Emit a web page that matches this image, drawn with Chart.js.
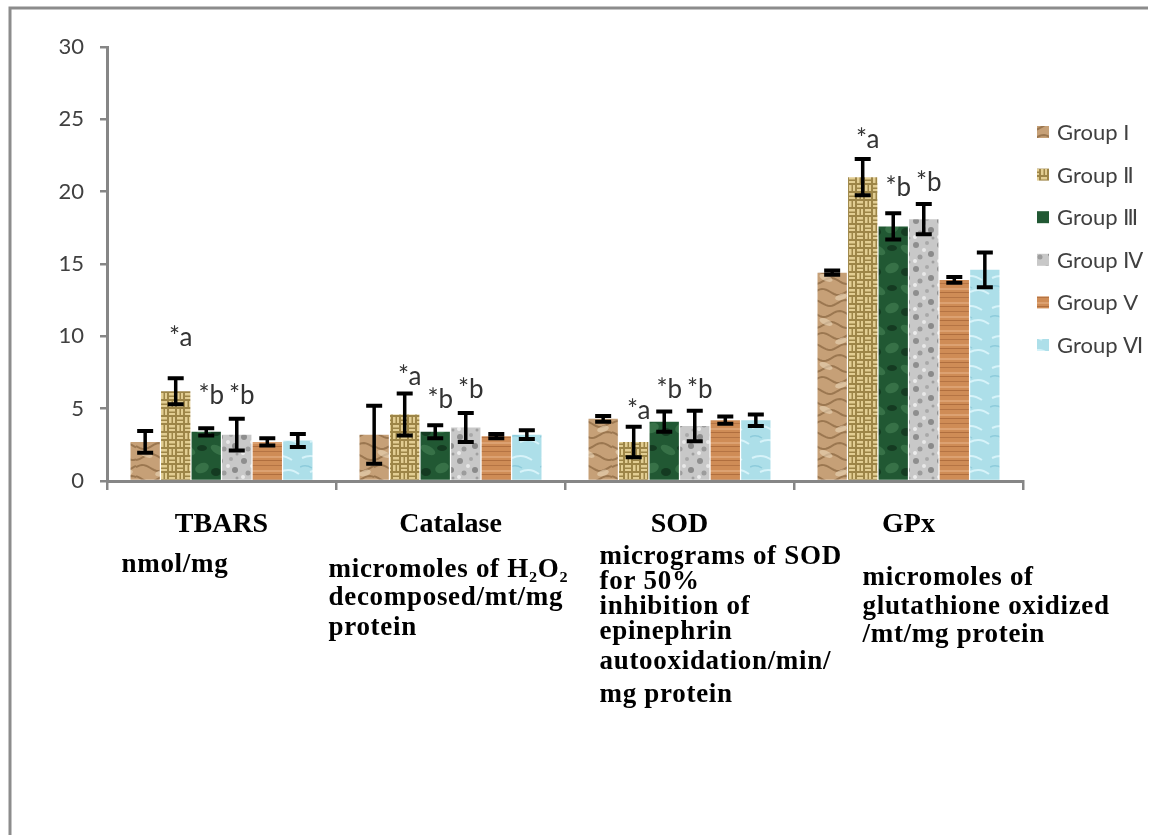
<!DOCTYPE html>
<html>
<head>
<meta charset="utf-8">
<script src="https://cdn.jsdelivr.net/npm/chart.js@4.4.0/dist/chart.umd.min.js"></script>
<style>
  html, body { margin: 0; padding: 0; background: #fff; }
  #wrap { width: 1155px; height: 835px; }
</style>
</head>
<body>
<div id="wrap"><canvas id="chart" width="1155" height="835"></canvas></div>
<script>
// Chart values
const categories = ['TBARS', 'Catalase', 'SOD', 'GPx'];
const groupNames = ['Group I', 'Group Ⅱ', 'Group Ⅲ', 'Group Ⅳ', 'Group V', 'Group Ⅵ'];

const group1 = [2.7, 3.2, 4.3, 14.4];
const group2 = [6.2, 4.6, 2.7, 21.0];
const group3 = [3.4, 3.4, 4.1, 17.6];
const group4 = [3.2, 3.7, 3.8, 18.1];
const group5 = [2.7, 3.1, 4.2, 13.9];
const group6 = [2.8, 3.2, 4.2, 14.6];

const err1 = [0.75, 2.0, 0.2, 0.15];
const err2 = [0.9, 1.45, 1.05, 1.25];
const err3 = [0.25, 0.45, 0.7, 0.9];
const err4 = [1.1, 1.0, 1.05, 1.05];
const err5 = [0.25, 0.15, 0.25, 0.2];
const err6 = [0.45, 0.3, 0.4, 1.2];

const yMin = 0, yMax = 30, yStep = 5;

// significance marks: group index, category index, height (axis units), text
const sigMarks = [
  [1, 0, 9.9, '*a'], [2, 0, 5.9, '*b'], [3, 0, 5.9, '*b'],
  [1, 1, 7.2, '*a'], [2, 1, 5.65, '*b'], [3, 1, 6.35, '*b'],
  [1, 2, 4.9, '*a'], [2, 2, 6.35, '*b'], [3, 2, 6.35, '*b'],
  [1, 3, 23.6, '*a'], [2, 3, 20.3, '*b'], [3, 3, 20.6, '*b']
];

// unit text under each category
const unitLines = [
  ['nmol/mg'],
  ['micromoles of H₂O₂', 'decomposed/mt/mg', 'protein'],
  ['micrograms of SOD', 'for 50%', 'inhibition of', 'epinephrin', 'autooxidation/min/', 'mg protein'],
  ['micromoles of', 'glutathione oxidized', '/mt/mg protein']
];
const unitLeft = [-100, -122, -80, -46];
const unitY = [
  [565],
  [570, 598, 628],
  [557, 582, 607, 632, 662, 695],
  [578, 607, 635]
];

const values = [group1, group2, group3, group4, group5, group6];
const errors = [err1, err2, err3, err4, err5, err6];

// Texture fills, drawn once on small tiles
function tile(w, h, draw) {
  const c = document.createElement('canvas');
  c.width = w; c.height = h;
  const g = c.getContext('2d');
  draw(g, w, h);
  return document.getElementById('chart').getContext('2d').createPattern(c, 'repeat');
}

const patterns = [
  tile(34, 44, (g, w, h) => {           // sandy rock
    g.fillStyle = '#c6a077'; g.fillRect(0, 0, w, h);
    g.strokeStyle = 'rgba(120,85,50,0.55)'; g.lineWidth = 2;
    for (let k = 0; k < 4; k++) {
      g.beginPath();
      for (let x = 0; x <= w; x += 2) {
        const y = 6 + k * 11 + Math.sin(x / 5 + k * 1.7) * 3;
        x === 0 ? g.moveTo(x, y) : g.lineTo(x, y);
      }
      g.stroke();
    }
    g.fillStyle = 'rgba(235,215,185,0.6)';
    g.beginPath(); g.ellipse(10, 14, 7, 3, 0.4, 0, Math.PI * 2); g.fill();
    g.beginPath(); g.ellipse(25, 33, 6, 3, -0.3, 0, Math.PI * 2); g.fill();
  }),
  tile(16, 16, (g, w, h) => {           // woven burlap
    g.fillStyle = '#e2cd92'; g.fillRect(0, 0, w, h);
    g.strokeStyle = '#9d8547'; g.lineWidth = 1;
    g.strokeRect(0.5, 0.5, 7, 3.5); g.strokeRect(0.5, 4.5, 7, 3);
    g.strokeRect(8.5, 0.5, 3.5, 7); g.strokeRect(12.5, 0.5, 3, 7);
    g.strokeRect(0.5, 8.5, 3.5, 7); g.strokeRect(4.5, 8.5, 3, 7);
    g.strokeRect(8.5, 8.5, 7, 3.5); g.strokeRect(8.5, 12.5, 7, 3);
  }),
  tile(30, 40, (g, w, h) => {           // green marble
    g.fillStyle = '#215833'; g.fillRect(0, 0, w, h);
    g.fillStyle = 'rgba(70,130,85,0.6)';
    g.beginPath(); g.ellipse(8, 10, 8, 4, 0.5, 0, Math.PI * 2); g.fill();
    g.beginPath(); g.ellipse(22, 28, 7, 5, -0.4, 0, Math.PI * 2); g.fill();
    g.fillStyle = 'rgba(15,45,25,0.7)';
    g.beginPath(); g.ellipse(22, 8, 5, 3, 0, 0, Math.PI * 2); g.fill();
    g.beginPath(); g.ellipse(6, 32, 5, 4, 0, 0, Math.PI * 2); g.fill();
  }),
  tile(24, 24, (g, w, h) => {           // granite
    g.fillStyle = '#c8c8c8'; g.fillRect(0, 0, w, h);
    const spots = [[4, 5, 3, '#8e8e8e'], [15, 3, 2, '#a8a8a8'], [19, 14, 3, '#8a8a8a'],
      [8, 17, 2.5, '#9c9c9c'], [12, 10, 2, '#e8e8e8'], [3, 21, 2, '#ebebeb'], [21, 22, 1.5, '#a0a0a0']];
    spots.forEach(s => { g.fillStyle = s[3]; g.beginPath(); g.arc(s[0], s[1], s[2], 0, Math.PI * 2); g.fill(); });
  }),
  tile(20, 14, (g, w, h) => {           // wood planks
    g.fillStyle = '#cf8c56'; g.fillRect(0, 0, w, h);
    g.fillStyle = '#b57444'; g.fillRect(0, 3, w, 1);
    g.fillStyle = '#dca171'; g.fillRect(0, 8, w, 2);
    g.fillStyle = '#b06e3e'; g.fillRect(0, 12, w, 1);
  }),
  tile(30, 30, (g, w, h) => {           // water
    g.fillStyle = '#addfe9'; g.fillRect(0, 0, w, h);
    g.strokeStyle = 'rgba(225,248,252,0.8)'; g.lineWidth = 2;
    g.beginPath(); g.moveTo(2, 8); g.quadraticCurveTo(12, 3, 22, 10); g.stroke();
    g.beginPath(); g.moveTo(10, 22); g.quadraticCurveTo(20, 17, 29, 24); g.stroke();
    g.strokeStyle = 'rgba(120,190,210,0.6)'; g.lineWidth = 1.5;
    g.beginPath(); g.moveTo(0, 17); g.quadraticCurveTo(6, 14, 12, 18); g.stroke();
  })
];

const axisGray = '#868686';

const extrasPlugin = {
  id: 'extras',
  beforeDraw(chart) {
    const ctx = chart.ctx;
    ctx.save();
    ctx.strokeStyle = '#8c8c8c';
    ctx.lineWidth = 3;
    ctx.beginPath();
    ctx.moveTo(10, 835); ctx.lineTo(10, 8); ctx.lineTo(1148, 8);
    ctx.stroke();
    ctx.restore();
  },
  afterDatasetsDraw(chart) {
    const ctx = chart.ctx;
    const yScale = chart.scales.y;
    const xScale = chart.scales.x;
    ctx.save();

    // error bars
    ctx.strokeStyle = '#000';
    errors.forEach((errs, di) => {
      const meta = chart.getDatasetMeta(di);
      meta.data.forEach((bar, ci) => {
        const v = values[di][ci];
        const top = yScale.getPixelForValue(v + errs[ci]);
        const bot = yScale.getPixelForValue(v - errs[ci]);
        ctx.lineWidth = 3.5;
        ctx.beginPath(); ctx.moveTo(bar.x, top); ctx.lineTo(bar.x, bot); ctx.stroke();
        ctx.lineWidth = 4;
        ctx.beginPath();
        ctx.moveTo(bar.x - 8, top); ctx.lineTo(bar.x + 8, top);
        ctx.moveTo(bar.x - 8, bot); ctx.lineTo(bar.x + 8, bot);
        ctx.stroke();
      });
    });

    // significance marks
    ctx.fillStyle = '#333';
    ctx.font = '26px Lato';
    ctx.textAlign = 'center';
    ctx.textBaseline = 'middle';
    sigMarks.forEach(([di, ci, yv, txt]) => {
      const bar = chart.getDatasetMeta(di).data[ci];
      ctx.fillText(txt, bar.x + 5, yScale.getPixelForValue(yv));
    });

    // unit text below category names
    ctx.fillStyle = '#000';
    ctx.font = 'bold 27px "Liberation Serif"';
    ctx.letterSpacing = '0.7px';
    ctx.textAlign = 'left';
    unitLines.forEach((lines, ci) => {
      const cx = xScale.getPixelForValue(ci);
      lines.forEach((line, li) => ctx.fillText(line, cx + unitLeft[ci], unitY[ci][li]));
    });
    ctx.letterSpacing = '0px';

    // legend
    ctx.font = '22px Lato';
    chart.data.datasets.forEach((ds, di) => {
      const y = 132 + di * 42.6;
      ctx.fillStyle = ds.backgroundColor;
      ctx.fillRect(1037, y - 6, 12, 12);
      ctx.fillStyle = '#404040';
      ctx.fillText(ds.label, 1057, y + 1);
    });
    ctx.restore();
  }
};

new Chart(document.getElementById('chart'), {
  type: 'bar',
  data: {
    labels: categories,
    datasets: values.map((vals, i) => ({
      label: groupNames[i],
      data: vals,
      backgroundColor: patterns[i],
      borderWidth: 0,
      barPercentage: 0.96,
      categoryPercentage: 0.8
    }))
  },
  options: {
    responsive: false,
    animation: false,
    events: [],
    layout: { padding: { left: 0, top: 47, right: 132, bottom: 0 } },
    plugins: { legend: { display: false }, tooltip: { enabled: false } },
    scales: {
      x: {
        grid: { offset: true, drawOnChartArea: false, tickLength: 9, color: axisGray, lineWidth: 2.5 },
        border: { color: axisGray, width: 3 },
        ticks: {
          color: '#000',
          padding: 18,
          font: { family: 'Liberation Serif', size: 28, weight: 'bold' }
        },
        afterFit(scale) { scale.height = 354; }
      },
      y: {
        min: yMin,
        max: yMax,
        grid: { drawOnChartArea: false, tickLength: 7, color: axisGray, lineWidth: 2.5 },
        border: { color: axisGray, width: 3 },
        ticks: {
          stepSize: yStep,
          color: '#404040',
          padding: 16,
          font: { family: 'Lato', size: 22 }
        },
        afterFit(scale) { scale.width = 107; }
      }
    }
  },
  plugins: [extrasPlugin]
});
</script>
</body>
</html>
